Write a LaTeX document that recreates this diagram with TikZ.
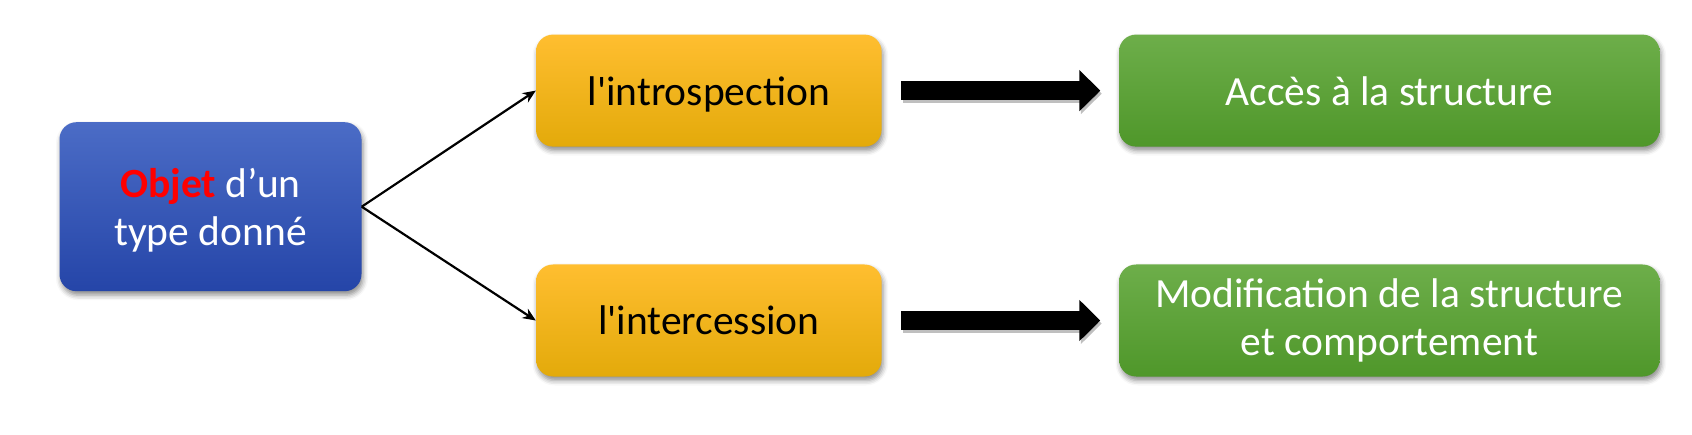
\documentclass[tikz,border=0pt]{standalone}
\usepackage{fontspec}
\setmainfont{Carlito}
\usetikzlibrary{arrows.meta,shadows.blur}
\definecolor{bluetop}{HTML}{4B6CC6}
\definecolor{bluemid}{HTML}{3054BC}
\definecolor{bluebot}{HTML}{2545A8}
\definecolor{orgtop}{HTML}{FFBE30}
\definecolor{orgmid}{HTML}{FFC000}
\definecolor{orgbot}{HTML}{E3AA0A}
\definecolor{grntop}{HTML}{6DAE4A}
\definecolor{grnmid}{HTML}{5FA535}
\definecolor{grnbot}{HTML}{4F972A}
\definecolor{objred}{HTML}{FF0000}
\begin{document}
\begin{tikzpicture}[x=1pt,y=1pt,
  box/.style={rounded corners=17pt, inner sep=0pt, align=center,
    font=\fontsize{41.5}{48}\selectfont,
    blur shadow={shadow xshift=1.5pt, shadow yshift=-4pt, shadow blur radius=5pt, shadow opacity=45}},
  bluebox/.style={box, minimum width=302pt, minimum height=169pt, text=white,
    top color=bluetop, middle color=bluemid, bottom color=bluebot, text depth=0pt},
  orgbox/.style={box, minimum width=345.6pt, minimum height=112pt, text=black,
    top color=orgtop, middle color=orgmid, bottom color=orgbot, text depth=0pt},
  grnbox/.style={box, minimum width=540.6pt, minimum height=112pt, text=white,
    top color=grntop, middle color=grnmid, bottom color=grnbot},
  thin/.style={draw=black, line width=2.2pt, -{Stealth[length=13pt,width=11pt]}},
  fat/.style={draw=black, line width=19pt, -{Triangle[length=21pt,width=40pt]},
    shorten <=19.5pt, shorten >=18.5pt},
  fatshadow/.style={fat, draw=black, opacity=0.25}
]
\useasboundingbox (0,0) rectangle (1692,434);
\node[bluebox] (obj) at (210.5,227.3) {\textbf{\color{objred}Objet} d’un\\type donné};
\node[orgbox] (intro) at (708.8,343.4) {l\textquotesingle introspection};
\node[orgbox] (inter) at (708.8,113.5) {l\textquotesingle intercession};
\node[grnbox, text depth=0pt] (acces) at (1389.3,343.4) {Accès à la structure};
\node[grnbox] (modif) at (1389.3,113.5) {Modification de la structure\\et comportement};
\draw[thin] (obj.east) -- (intro.west);
\draw[thin] (obj.east) -- (inter.west);
\draw[fatshadow] ([shift={(1.5pt,-3pt)}]intro.east) -- ([shift={(1.5pt,-3pt)}]acces.west);
\draw[fatshadow] ([shift={(1.5pt,-3pt)}]inter.east) -- ([shift={(1.5pt,-3pt)}]modif.west);
\draw[fat] (intro.east) -- (acces.west);
\draw[fat] (inter.east) -- (modif.west);
\end{tikzpicture}
\end{document}
